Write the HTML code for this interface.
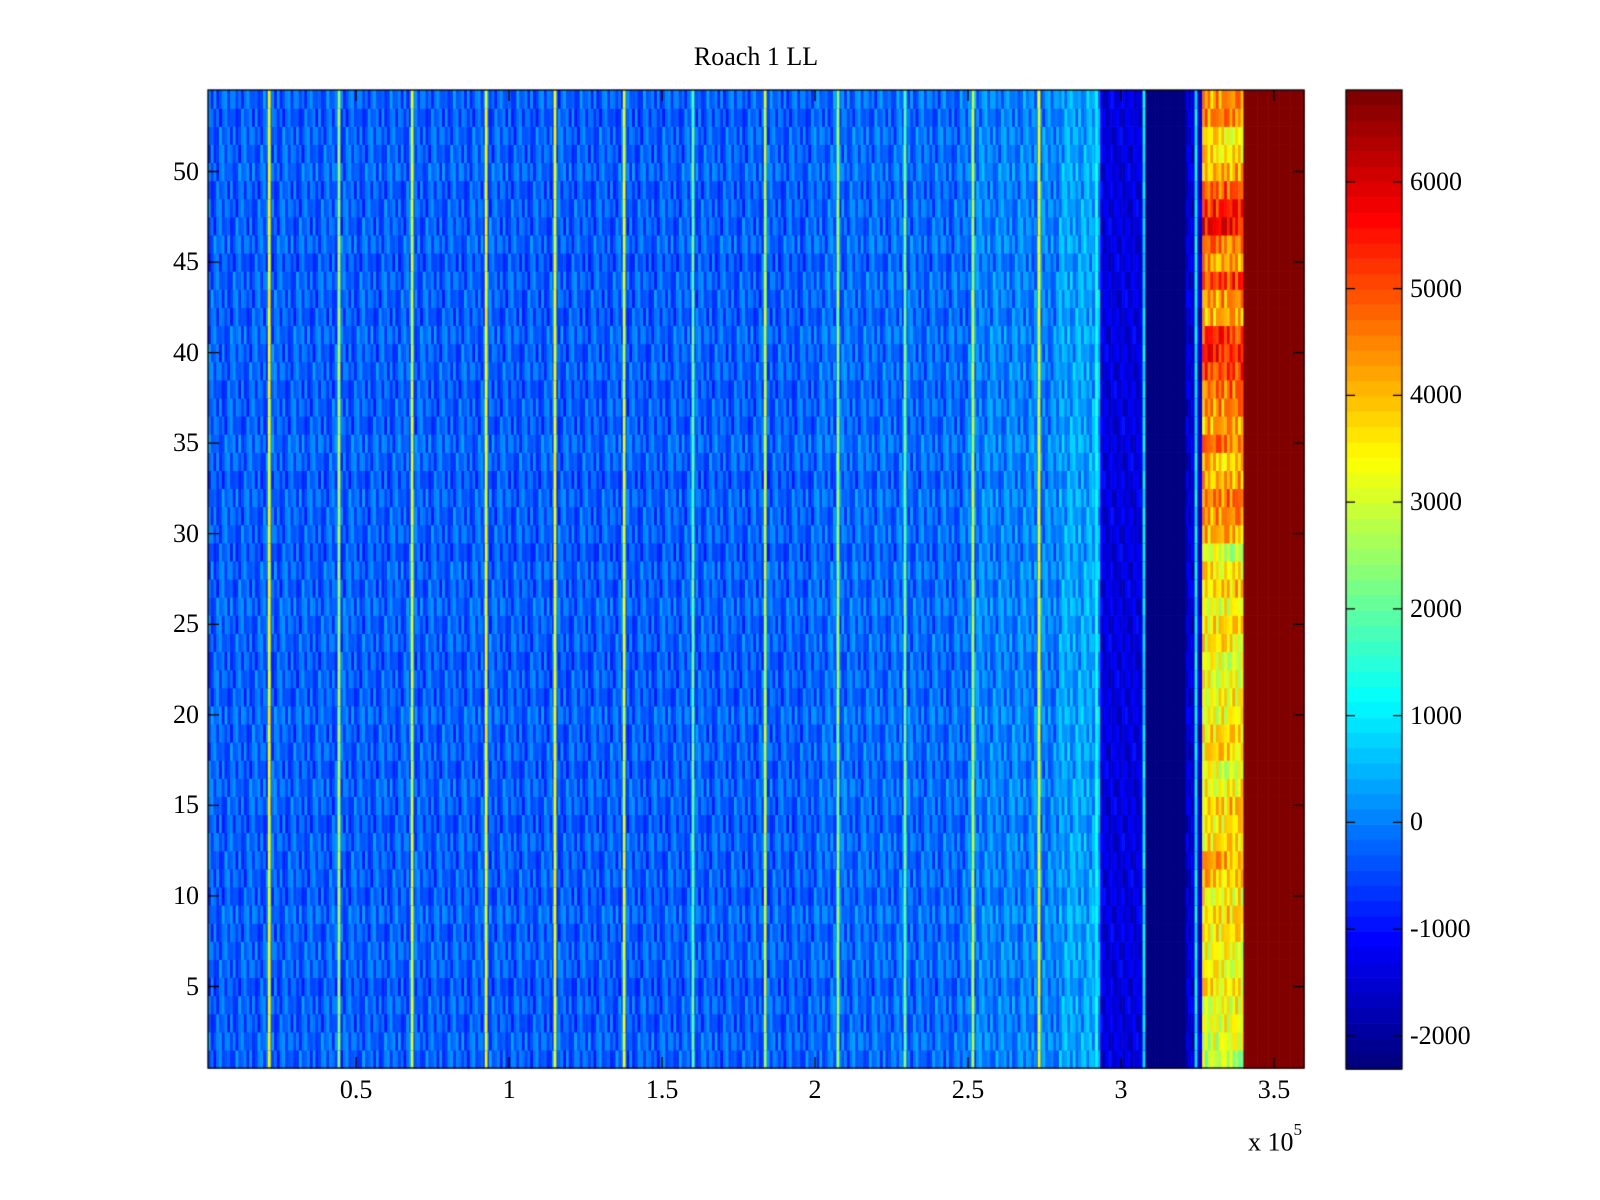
<!DOCTYPE html>
<html><head><meta charset="utf-8"><style>
body{margin:0;background:#fff;width:1600px;height:1200px;overflow:hidden;position:relative;font-family:"Liberation Serif",serif;}
canvas{position:absolute;left:0;top:0}
.t{position:absolute;font-size:26px;color:#000;white-space:nowrap;line-height:1}
</style></head><body>
<canvas id="c" width="1600" height="1200"></canvas>
<div id="labels"></div>
<script>
// ---- data ----
const xLim=[1600,359800];
const yLim=[0.5,54.5];
const cLim=[-2310,6860];
// base profile segments: start, end (data x), mean value
const segStart=[1600,50000,100000,150000,200000,250000,280000,293500,307200,321200,326800,340200];
const segEnd  =[50000,100000,150000,200000,250000,280000,293500,307200,321200,326800,340200,359800];
const segValue=[-300,-300,-320,-300,-200,0,300,-1400,-2400,-1500,4300,7000];
// bright vertical stripes
const stripeX=[21600,44400,68300,92500,115000,137600,160100,183700,207500,229400,251600,273200,292000,307500,324500];
const stripeV=[3300,2600,2900,3300,3300,3000,1900,2800,2400,2100,2700,3200,1200,900,1000];
// orange band per row (row 1 .. 54)
const bandRows=[2700,3000,3200,3300,3600,3300,3200,3500,3700,3400,3900,4100,3600,3500,3900,3400,3100,3700,3600,3300,3400,3300,3100,3500,3600,3200,3900,3600,2900,4000,4300,4600,4200,3900,4600,4100,4400,4700,5100,5400,5200,4000,4300,5200,4300,4600,5600,5300,4800,4200,3700,3500,4400,4300];
// fine texture offsets
const tex=[-420,310,-150,520,-600,90,260,-330,440,-80,-510,180,370,-240,600,-390,30,-170,480,-560,220,-60,350];
const rowShift=[0,120,-80,60,-150,40,90,-60,150,-100,30,-40,80,-120,20,110,-90,50,-30,140,-70,10,-110,70,-20,130,-50,100,-140,60,-10,90,-130,40,150,-60,20,-100,80,-30,120,-80,0,60,-150,110,-40,30,-90,140,-20,50,-110,70];

const ax={l:208,r:1304,t:90,b:1068};
const xs=v=>ax.l+(v-xLim[0])/(xLim[1]-xLim[0])*(ax.r-ax.l);
const ys=v=>ax.t+(yLim[1]-v)/(yLim[1]-yLim[0])*(ax.b-ax.t);
function jet(f){f=Math.max(0,Math.min(1,f));f=Math.floor(f*63.999)/63;
 const c=x=>Math.round(255*Math.max(0,Math.min(1,1.5-Math.abs(4*f-x))));
 return `rgb(${c(3)},${c(2)},${c(1)})`;}
const cf=v=>(v-cLim[0])/(cLim[1]-cLim[0]);
function valueAt(x,row,col){
 let base=segValue[segValue.length-1],si=0;
 for(let i=0;i<segStart.length;i++){if(x>=segStart[i]&&x<segEnd[i]){base=segValue[i];si=i;break;}}
 if(si===10) base=bandRows[row-1]+tex[(col*5+row*3)%tex.length]*1.3;
 else if(si<7) base+=tex[(col*7+row*13)%tex.length]+rowShift[row-1]*0.6;
 else if(si===7||si===9) base+=tex[(col*11+row*5)%tex.length]*0.7;
 return base;
}
const cv=document.getElementById('c'),g=cv.getContext('2d');
g.fillStyle='#fff';g.fillRect(0,0,1600,1200);
const colW=900;
for(let row=1;row<=54;row++){
 const y0=ys(row+0.5),y1=ys(row-0.5);
 let col=0;
 for(let x=xLim[0];x<xLim[1];x+=colW,col++){
  g.fillStyle=jet(cf(valueAt(x+colW/2,row,col)));
  const a=xs(x),b=xs(Math.min(x+colW,xLim[1]));
  g.fillRect(a,y0,b-a+0.6,y1-y0+0.6);
 }
 // stripes
 for(let k=0;k<stripeX.length;k++){
  g.fillStyle=jet(cf(stripeV[k]+tex[(row*3+k)%tex.length]*0.5));
  const a=xs(stripeX[k]-450),b=xs(stripeX[k]+450);
  g.fillRect(a,y0,b-a,y1-y0+0.6);
 }
}
g.strokeStyle='#000';g.lineWidth=1.3;
g.strokeRect(ax.l,ax.t,ax.r-ax.l,ax.b-ax.t);
const xTicks=[50000,100000,150000,200000,250000,300000,350000];
const xTickLabels=['0.5','1','1.5','2','2.5','3','3.5'];
const yTicks=[5,10,15,20,25,30,35,40,45,50];
const L=document.getElementById('labels');
function lab(txt,x,y,align,name){const d=document.createElement('div');d.className='t';d.textContent=txt;
 
 
 d.style.top=(y-13)+'px';
 if(align==='c'){d.style.left=(x-60)+'px';d.style.width='120px';d.style.textAlign='center';}
 else if(align==='r'){d.style.left=(x-120)+'px';d.style.width='120px';d.style.textAlign='right';}
 else d.style.left=x+'px';
 L.appendChild(d);}
g.beginPath();
xTicks.forEach((v,i)=>{const x=xs(v);g.moveTo(x,ax.b);g.lineTo(x,ax.b-11);g.moveTo(x,ax.t);g.lineTo(x,ax.t+11);
 lab(xTickLabels[i],x,1090,'c','x-tick-label');});
yTicks.forEach(v=>{const y=ys(v);g.moveTo(ax.l,y);g.lineTo(ax.l+11,y);g.moveTo(ax.r,y);g.lineTo(ax.r-11,y);
 lab(String(v),199,y,'r','y-tick-label');});
g.stroke();
// colorbar
const cb={l:1346,r:1402,t:90,b:1069};
for(let i=0;i<64;i++){const y0=cb.b-(i+1)/64*(cb.b-cb.t),y1=cb.b-i/64*(cb.b-cb.t);
 g.fillStyle=jet((i+0.5)/64);g.fillRect(cb.l,y0,cb.r-cb.l,y1-y0+0.6);}
g.strokeRect(cb.l,cb.t,cb.r-cb.l,cb.b-cb.t);
const cTicks=[-2000,-1000,0,1000,2000,3000,4000,5000,6000];
const cy=v=>cb.b-(v-cLim[0])/(cLim[1]-cLim[0])*(cb.b-cb.t);
g.beginPath();
cTicks.forEach(v=>{const y=cy(v);g.moveTo(cb.l,y);g.lineTo(cb.l+9,y);g.moveTo(cb.r,y);g.lineTo(cb.r-9,y);
 lab(String(v),1410,y,'l','colorbar-tick-label');});
g.stroke();
</script>
<div class="t" style="left:656px;top:44px;width:200px;text-align:center">Roach 1 LL</div>
<div class="t" style="left:1248px;top:1127px">x 10<sup style="font-size:17px;position:relative;top:-6px">5</sup></div>
</body></html>
